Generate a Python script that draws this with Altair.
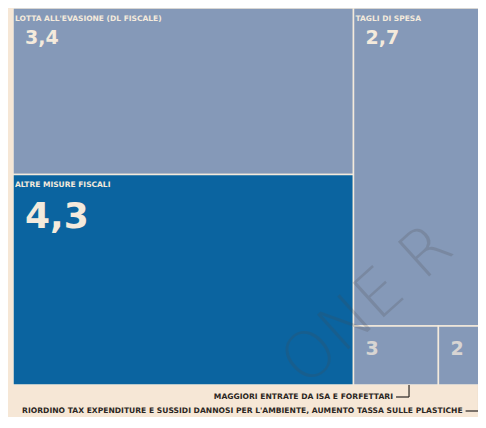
import altair as alt
import pandas as pd

# ---- data -------------------------------------------------------------
categories = [
    "LOTTA ALL'EVASIONE (DL FISCALE)",
    "ALTRE MISURE FISCALI",
    "TAGLI DI SPESA",
    "MAGGIORI ENTRATE DA ISA E FORFETTARI",
    "RIORDINO TAX EXPENDITURE E SUSSIDI DANNOSI PER L'AMBIENTE, AUMENTO TASSA SULLE PLASTICHE",
]
values = [3.4, 4.3, 2.7, 0.3, 0.2]
value_labels = ["3,4", "4,3", "2,7", "3", "2"]
column = [0, 0, 1, 1, 1]      # treemap column of each box
row = [0, 1, 0, 1, 1]         # row inside its column (same row -> split horizontally)
named = [True, True, True, False, False]   # name written inside the box
highlight = "ALTRE MISURE FISCALI"
watermark = ["ONE R"]

# ---- slice-and-dice layout computed from the values ---------------------
total = sum(values)
recs = []
cx = 0.0
for c in sorted(set(column)):
    idx_c = [i for i in range(len(values)) if column[i] == c]
    csum = sum(values[i] for i in idx_c)
    cw = csum / total
    ry = 0.0
    for r in sorted(set(row[i] for i in idx_c)):
        idx_r = [i for i in idx_c if row[i] == r]
        rsum = sum(values[i] for i in idx_r)
        rh = rsum / csum
        bx = cx
        for i in idx_r:
            bw = cw * values[i] / rsum
            recs.append(dict(name=categories[i], val=values[i], lab=value_labels[i],
                             named=named[i], x0=bx, x1=bx + bw, y0=ry, y1=ry + rh,
                             hl=categories[i] == highlight))
            bx += bw
        ry += rh
    cx += cw
df = pd.DataFrame(recs)

# ---- geometry / style ---------------------------------------------------
FULL_W = 482          # width of the complete treemap (px); right edge is cropped
PLOT_W = 465
PLOT_H = 377
XMAX = PLOT_W / FULL_W
px = 1.0 / FULL_W     # one pixel in x data units

BG = "#f6e7d6"
LIGHT = "#8599b8"
DARK = "#0b64a0"
CREAM = "#f4eadc"
INK = "#2b2622"
FONT = "DejaVu Sans"

# annotation leader lines for the unnamed boxes
lead_frac = {categories[3]: 0.654, categories[4]: 0.71}
ann_px = {categories[3]: 389, categories[4]: 403}
ann = df[~df["named"]].copy()
ann["lx"] = [r["x0"] + lead_frac[r["name"]] * (r["x1"] - r["x0"]) for _, r in ann.iterrows()]
ann["lx2"] = ann["lx"] - 13 * px
ann["tx"] = ann["lx"] - 16 * px
ann["py"] = [ann_px[n] / PLOT_H for n in ann["name"]]

xs = alt.Scale(domain=[0, XMAX], range=[0, PLOT_W], nice=False, zero=False)
ys = alt.Scale(domain=[0, 1], range=[0, PLOT_H], nice=False, zero=False)


def X(f):
    return alt.X(f, type="quantitative", scale=xs, axis=None)


def Y(f):
    return alt.Y(f, type="quantitative", scale=ys, axis=None)


base = alt.Chart(df)

rects = base.mark_rect(stroke=CREAM, strokeWidth=1.5, clip=True).encode(
    x=X("x0"), x2="x1", y=Y("y0"), y2="y1",
    color=alt.condition("datum.hl", alt.value(DARK), alt.value(LIGHT)),
)

names = base.transform_filter("datum.named").mark_text(
    align="left", baseline="top", dx=2, dy=7, font=FONT, fontWeight="bold",
    fontSize=7.5, color=CREAM,
).encode(x=X("x0"), y=Y("y0"), text="name:N")

num_norm = base.transform_filter("datum.named && !datum.hl").mark_text(
    align="left", baseline="top", dx=12, dy=21, font=FONT, fontWeight="bold",
    fontSize=19, color=CREAM,
).encode(x=X("x0"), y=Y("y0"), text="lab:N")

num_big = base.transform_filter("datum.hl").mark_text(
    align="left", baseline="top", dx=12, dy=26, font=FONT, fontWeight="bold",
    fontSize=36, color=CREAM,
).encode(x=X("x0"), y=Y("y0"), text="lab:N")

num_small = base.transform_filter("!datum.named").mark_text(
    align="left", baseline="top", dx=12, dy=14, font=FONT, fontWeight="bold",
    fontSize=19, color=CREAM, opacity=0.75,
).encode(x=X("x0"), y=Y("y0"), text="lab:N")

abase = alt.Chart(ann)
vlines = abase.mark_rule(color=INK, strokeWidth=1.2).encode(
    x=X("lx"), y=Y("y1"), y2="py"
)
hlines = abase.mark_rule(color=INK, strokeWidth=1.2).encode(
    x=X("lx2"), x2="lx", y=Y("py")
)
atext = abase.mark_text(
    align="right", baseline="middle", font=FONT, fontWeight="bold",
    fontSize=7.6, color=INK,
).encode(x=X("tx"), y=Y("py"), text="name:N")

wm = alt.Chart(pd.DataFrame({"t": watermark})).mark_text(
    align="center", baseline="middle", angle=318, font=FONT, fontWeight=200,
    fontSize=64, color="#4a4a4a", opacity=0.2,
).encode(x=alt.value(355), y=alt.value(298), text="t:N")

chart = alt.layer(rects, names, num_norm, num_big, num_small, vlines, hlines, atext, wm).properties(
    width=PLOT_W, height=PLOT_H,
    padding={"left": 5, "top": 0, "right": 0, "bottom": 32},
    autosize=alt.AutoSizeParams(type="none"),
    background=BG,
).configure_view(stroke=None)

chart.save("out.html", embed_options={"renderer": "svg", "actions": False})
